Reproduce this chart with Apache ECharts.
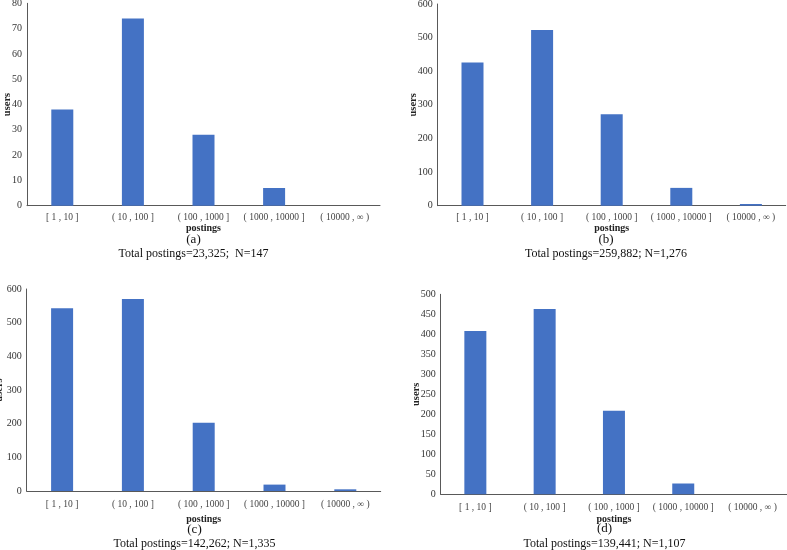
<!DOCTYPE html>
<html>
<head>
<meta charset="utf-8">
<script src="https://cdn.jsdelivr.net/npm/echarts@6/dist/echarts.min.js"></script>
<style>
html,body{margin:0;padding:0;background:#fff;}
#chart{width:787px;height:550px;}
</style>
</head>
<body>
<div id="chart"></div>
<script>
var categories = ['[ 1 , 10 ]', '( 10 , 100 ]', '( 100 , 1000 ]', '( 1000 , 10000 ]', '( 10000 , \u221e )'];
var valuesA = [38, 74, 28, 7, 0];
var valuesB = [426, 523, 272, 53, 5];
var valuesC = [543, 570, 203, 19, 5];
var valuesD = [408, 463, 209, 27, 0];
var panelLetters = ['(a)', '(b)', '(c)', '(d)'];
var captions = ['Total postings=23,325;  N=147', 'Total postings=259,882; N=1,276', 'Total postings=142,262; N=1,335', 'Total postings=139,441; N=1,107'];
var yMax = [80, 600, 600, 500];
var yInterval = [10, 100, 100, 50];
var xName = 'postings';
var yName = 'users';

var seriesValues = [valuesA, valuesB, valuesC, valuesD];
var grids = [
  {left: 27, top: 3.3, width: 353, height: 202.4, outerBoundsMode: 'none', containLabel: false},
  {left: 437.7, top: 4, width: 348, height: 201.7, outerBoundsMode: 'none', containLabel: false},
  {left: 26.7, top: 289, width: 354, height: 202, outerBoundsMode: 'none', containLabel: false},
  {left: 440.7, top: 294.3, width: 346.5, height: 200, outerBoundsMode: 'none', containLabel: false}
];
var xNameGaps = [18, 18, 23.5, 20.5];
var xLabelMargins = [7, 7, 8, 8];
var yNameGaps = [14, 18.5, 21.5, 19];
var captionX = [193.5, 606, 194.5, 604.5];
var letterY = [240, 240, 530, 528.5];
var totalY = [254, 254, 544, 543.5];

var FONT = '"Liberation Serif", "Times New Roman", serif';
var axisColor = '#595959';

var xAxes = [], yAxes = [], series = [], graphics = [];
for (var i = 0; i < 4; i++) {
  xAxes.push({
    type: 'category', gridIndex: i, data: categories,
    name: xName, nameLocation: 'middle', nameGap: xNameGaps[i], nameMoveOverlap: false,
    nameTextStyle: {fontFamily: FONT, fontWeight: 'bold', fontSize: 10, color: '#222'},
    axisLine: {lineStyle: {color: axisColor, width: 1}},
    axisTick: {show: false},
    axisLabel: {fontFamily: FONT, fontSize: 9.5, color: '#444', margin: xLabelMargins[i], interval: 0}
  });
  yAxes.push({
    type: 'value', gridIndex: i, min: 0, max: yMax[i], interval: yInterval[i],
    name: yName, nameLocation: 'middle', nameGap: yNameGaps[i], nameRotate: 90, nameMoveOverlap: false,
    nameTextStyle: {fontFamily: FONT, fontWeight: 'bold', fontSize: 10.5, color: '#222'},
    axisLine: {show: true, lineStyle: {color: axisColor, width: 1}},
    axisTick: {show: false},
    splitLine: {show: false},
    axisLabel: {fontFamily: FONT, fontSize: 10, color: '#333', margin: 5}
  });
  series.push({
    type: 'bar', xAxisIndex: i, yAxisIndex: i, data: seriesValues[i],
    barWidth: 22,
    itemStyle: {color: '#4472C4'},
    silent: true
  });
  graphics.push({
    type: 'text', x: captionX[i], y: letterY[i],
    style: {text: panelLetters[i], font: '13px ' + FONT, fill: '#111', textAlign: 'center', textVerticalAlign: 'middle'}
  });
  graphics.push({
    type: 'text', x: captionX[i], y: totalY[i],
    style: {text: captions[i], font: '12px ' + FONT, fill: '#111', textAlign: 'center', textVerticalAlign: 'middle'}
  });
}

var chart = echarts.init(document.getElementById('chart'), null, {renderer: 'canvas'});
chart.setOption({
  animation: false,
  backgroundColor: '#ffffff',
  grid: grids,
  xAxis: xAxes,
  yAxis: yAxes,
  series: series,
  graphic: graphics
});
</script>
</body>
</html>
